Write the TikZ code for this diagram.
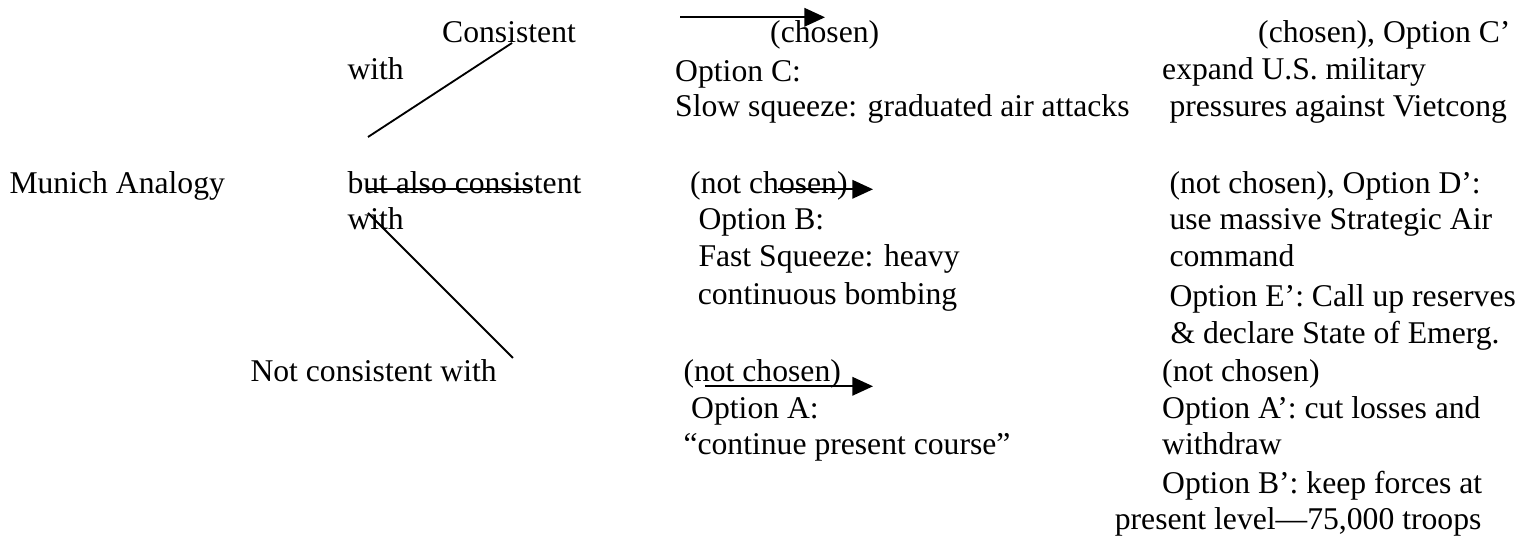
\documentclass[tikz,border=0pt]{standalone}
\usepackage{fontspec}
\setmainfont{Liberation Serif}
\usetikzlibrary{arrows.meta}
\begin{document}
\begin{tikzpicture}[x=0.37915pt, y=-0.37915pt,
  txt/.style={anchor=base west, inner sep=0pt, font=\fontsize{12}{14}\selectfont},
  ln/.style={line width=0.7pt, black},
  arr/.style={ln, -{Triangle[length=7.8pt,width=7pt]}}]
\useasboundingbox (0,0) rectangle (1523,541);
% left column
\node[txt] (munich) at (9,193.3) {Munich Analogy};
\node[txt] (cons) at (441.7,43) {Consistent};
\node[txt] (with1) at (347,80) {with};
\node[txt] (butalso) at (347,193.3) {but also consistent};
\node[txt] (with2) at (347,230) {with};
\node[txt] (notcons) at (250,381.7) {Not consistent with};
% middle column
\node[txt] (chosenC) at (769.7,43) {(chosen)};
\node[txt] (optC) at (674.7,81.5) {Option C:};
\node[txt] (slowC) at (674.7,116.7) {Slow squeeze: graduated air attacks};
\node[txt] (notchB) at (689.7,193.3) {(not chosen)};
\node[txt] (optB) at (698,230) {Option B:};
\node[txt] (fastB) at (698,267) {Fast Squeeze: heavy};
\node[txt] (contB) at (697.3,305) {continuous bombing};
\node[txt] (notchA) at (683,381.7) {(not chosen)};
\node[txt] (optA) at (690.7,418.3) {Option A:};
\node[txt] (contA) at (683,455) {“continue present course”};
% right column
\node[txt] (r1) at (1257.7,42.7) {(chosen), Option C’};
\node[txt] (r2) at (1161.7,80) {expand U.S. military};
\node[txt] (r3) at (1169,116.7) {pressures against Vietcong};
\node[txt] (r4) at (1169,193.3) {(not chosen), Option D’:};
\node[txt] (r5) at (1169,230) {use massive Strategic Air};
\node[txt] (r6) at (1169,266.7) {command};
\node[txt] (r7) at (1169,306.3) {Option E’: Call up reserves};
\node[txt] (r8) at (1170,343.3) {\&\ declare State of Emerg.};
\node[txt] (r9) at (1161.7,381.7) {(not chosen)};
\node[txt] (r10) at (1161.7,418.3) {Option A’: cut losses and};
\node[txt] (r11) at (1161.7,455) {withdraw};
\node[txt] (r12) at (1161.7,493.3) {Option B’: keep forces at};
\node[txt] (r13) at (1114.3,530) {present level—75,000 troops};
% connector end points
\coordinate (c1a) at (368,137);
\coordinate (c1b) at (512,43);
\coordinate (c2a) at (368,213);
\coordinate (c2b) at (513,358);
\coordinate (c3a) at (367,189.3);
\coordinate (c3b) at (533,189.3);
\coordinate (a1a) at (680,17.3);
\coordinate (a1b) at (825,17.3);
\coordinate (a2a) at (778,189.3);
\coordinate (a2b) at (873,189.3);
\coordinate (a3a) at (705,386.3);
\coordinate (a3b) at (873,386.3);
% connectors
\draw[ln] (c1a) -- (c1b);
\draw[ln] (c2a) -- (c2b);
\draw[ln] (c3a) -- (c3b);
\draw[arr] (a1a) -- (a1b);
\draw[arr] (a2a) -- (a2b);
\draw[arr] (a3a) -- (a3b);
\end{tikzpicture}
\end{document}
